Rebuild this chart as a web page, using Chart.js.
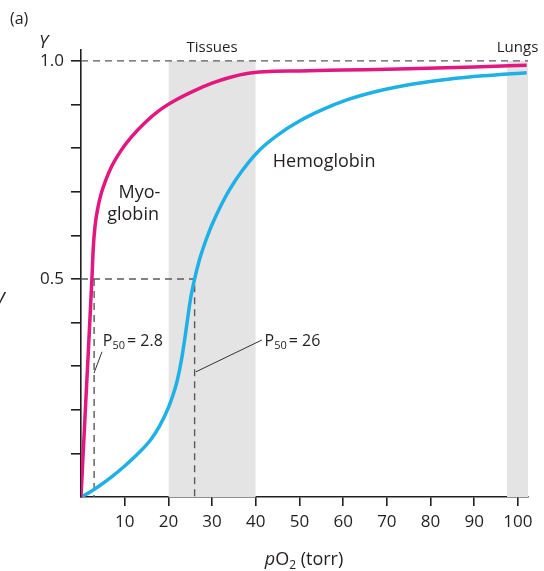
<!DOCTYPE html>
<html>
<head>
<meta charset="utf-8">
<script src="https://cdn.jsdelivr.net/npm/chart.js@4"></script>
<style>
  body { margin: 0; background: #fff; }
  #wrap { width: 544px; height: 571px; }
</style>
</head>
<body>
<div id="wrap"><canvas id="canvas" width="544" height="571"></canvas></div>
<script>
// values
var myoX = [0, 1.25, 2.5, 2.8, 3.2, 3.8, 4.6, 5.6, 7, 9, 11.5, 14.5, 18, 22, 26, 30, 34, 38, 42, 50, 60, 75, 90, 102];
var myoY = [0, 0.25, 0.5, 0.57, 0.62, 0.66, 0.695, 0.725, 0.758, 0.792, 0.825, 0.857, 0.887, 0.912, 0.932, 0.949, 0.962, 0.971, 0.975, 0.977, 0.979, 0.982, 0.986, 0.99];
var hemX = [0, 2, 4, 7, 10, 13, 16, 18, 20, 21, 22, 23, 24, 25, 26, 27, 28, 29, 30, 32, 34, 37, 41, 45, 50, 55, 61, 68, 76, 84, 92, 102];
var hemY = [0, 0.011, 0.024, 0.046, 0.071, 0.099, 0.132, 0.163, 0.205, 0.232, 0.266, 0.315, 0.38, 0.45, 0.5, 0.54, 0.572, 0.6, 0.625, 0.668, 0.705, 0.75, 0.797, 0.83, 0.862, 0.887, 0.911, 0.931, 0.947, 0.958, 0.966, 0.973];
var p50Myo = 2.8, p50Hem = 26;
var tissues = [20, 40];
var lungs = [97.5, 102.5];
var xTicks = [10, 20, 30, 40, 50, 60, 70, 80, 90, 100];
var yTicks = [0.1, 0.2, 0.3, 0.4, 0.5, 0.6, 0.7, 0.8, 0.9, 1.0];
var yLabeled = [0.5, 1.0];
var xMax = 102.3, yMax = 1.025;

var FONT = "'Open Sans', sans-serif";
var INK = '#231f20';

function pts(xs, ys) {
  return xs.map(function (x, i) { return { x: x, y: ys[i] }; });
}

function band(r) {
  return {
    data: [{ x: r[0], y: 1.0 }, { x: r[1], y: 1.0 }],
    borderWidth: 0, borderColor: 'rgba(0,0,0,0)',
    backgroundColor: '#e4e4e4', fill: 'origin', pointRadius: 0, order: 3, tension: 0
  };
}

function dashed(data) {
  return {
    data: data, borderColor: '#5a5a5a', borderWidth: 1.4, borderDash: [7, 5],
    fill: false, pointRadius: 0, order: 2, tension: 0
  };
}

function leader(data) {
  return {
    data: data, borderColor: '#333', borderWidth: 1,
    fill: false, pointRadius: 0, order: 1, tension: 0
  };
}

// text labels placed in data units
var notes = [
  { t: 'Myo-', x: 8.6, y: 0.686, size: 18, align: 'left' },
  { t: 'globin', x: 6.0, y: 0.636, size: 18, align: 'left' },
  { t: 'Hemoglobin', x: 43.9, y: 0.757, size: 18, align: 'left' },
  { t: 'Tissues', x: 30, y: 1.021, size: 15, align: 'center' },
  { t: 'Lungs', x: 99.9, y: 1.021, size: 15, align: 'center' }
];

var textPlugin = {
  id: 'texts',
  afterDraw: function (chart) {
    var c = chart.ctx, xs = chart.scales.x, ys = chart.scales.y;
    c.save();
    c.fillStyle = INK;
    c.textBaseline = 'alphabetic';
    notes.forEach(function (n) {
      c.font = n.size + 'px ' + FONT;
      c.textAlign = n.align;
      c.fillText(n.t, xs.getPixelForValue(n.x), ys.getPixelForValue(n.y));
    });

    // P50 labels with subscript
    function p50(txt, x, y) {
      var px = xs.getPixelForValue(x), py = ys.getPixelForValue(y);
      c.textAlign = 'left';
      c.font = '16px ' + FONT;
      c.fillText('P', px, py);
      var w = c.measureText('P').width;
      c.font = '11px ' + FONT;
      c.fillText('50', px + w, py + 3);
      w += c.measureText('50').width + 2;
      c.font = '16px ' + FONT;
      c.fillText(txt, px + w, py);
    }
    p50('= ' + p50Myo, 5.0, 0.347);
    p50('= ' + p50Hem, 42.0, 0.347);

    // panel letter and axis names
    c.textAlign = 'left';
    c.font = '16px ' + FONT;
    c.fillText('(a)', 10, 24);
    c.font = 'italic 18px ' + FONT;
    c.fillText('Y', 39, 48);
    c.font = 'italic 20px ' + FONT;
    c.fillText('y', -4, 303);

    // x axis title: pO2 (torr)
    c.font = 'italic 18px ' + FONT;
    var a = 'p', b = 'O', s = '2', d = ' (torr)';
    var wa = c.measureText(a).width;
    c.font = '18px ' + FONT;
    var wb = c.measureText(b).width, wd = c.measureText(d).width;
    c.font = '12px ' + FONT;
    var ws = c.measureText(s).width;
    var x0 = 304 - (wa + wb + ws + wd) / 2, by = 565;
    c.font = 'italic 18px ' + FONT;
    c.fillText(a, x0, by);
    c.font = '18px ' + FONT;
    c.fillText(b, x0 + wa, by);
    c.font = '12px ' + FONT;
    c.fillText(s, x0 + wa + wb, by + 4);
    c.font = '18px ' + FONT;
    c.fillText(d, x0 + wa + wb + ws, by);
    c.restore();
  }
};

var ctx = document.getElementById('canvas').getContext('2d');
var chart = new Chart(ctx, {
  type: 'line',
  data: {
    datasets: [
      {
        label: 'Myoglobin', data: pts(myoX, myoY),
        borderColor: '#e2187f', borderWidth: 3.5, fill: false, pointRadius: 0,
        cubicInterpolationMode: 'monotone', order: 0
      },
      {
        label: 'Hemoglobin', data: pts(hemX, hemY),
        borderColor: '#1fb0e6', borderWidth: 3.5, fill: false, pointRadius: 0,
        cubicInterpolationMode: 'monotone', order: 0
      },
      dashed([{ x: 0, y: 1.0 }, { x: xMax, y: 1.0 }]),
      dashed([{ x: 0, y: 0.5 }, { x: p50Hem, y: 0.5 }, { x: p50Hem, y: 0 }]),
      dashed([{ x: p50Myo + 0.2, y: 0.5 }, { x: p50Myo + 0.2, y: 0 }]),
      leader([{ x: 2.97, y: 0.284 }, { x: 4.8, y: 0.333 }]),
      leader([{ x: 26.3, y: 0.287 }, { x: 41.4, y: 0.36 }]),
      band(tissues),
      band(lungs)
    ]
  },
  options: {
    responsive: false,
    animation: false,
    layout: { padding: { top: 50, right: 16, left: 0, bottom: 0 } },
    plugins: { legend: { display: false }, tooltip: { enabled: false } },
    scales: {
      x: {
        type: 'linear', min: 0, max: xMax,
        border: { display: true, color: INK, width: 1.6 },
        grid: { drawOnChartArea: false, drawTicks: true, tickLength: 9, color: INK, lineWidth: 1.6 },
        ticks: { color: INK, font: { family: FONT, size: 17 }, padding: 6, maxRotation: 0 },
        afterBuildTicks: function (scale) {
          scale.ticks = xTicks.map(function (v) { return { value: v }; });
        },
        afterFit: function (scale) { scale.height = 74; }
      },
      y: {
        type: 'linear', min: 0, max: yMax,
        border: { display: true, color: INK, width: 1.6 },
        grid: { drawOnChartArea: false, drawTicks: true, tickLength: 10, color: INK, lineWidth: 1.6 },
        ticks: {
          color: INK, font: { family: FONT, size: 17 }, padding: 7,
          callback: function (v) { return yLabeled.indexOf(v) >= 0 ? v.toFixed(1) : ''; }
        },
        afterBuildTicks: function (scale) {
          scale.ticks = yTicks.map(function (v) { return { value: v }; });
        },
        afterFit: function (scale) { scale.width = 81; }
      }
    }
  },
  plugins: [textPlugin]
});
</script>
</body>
</html>
